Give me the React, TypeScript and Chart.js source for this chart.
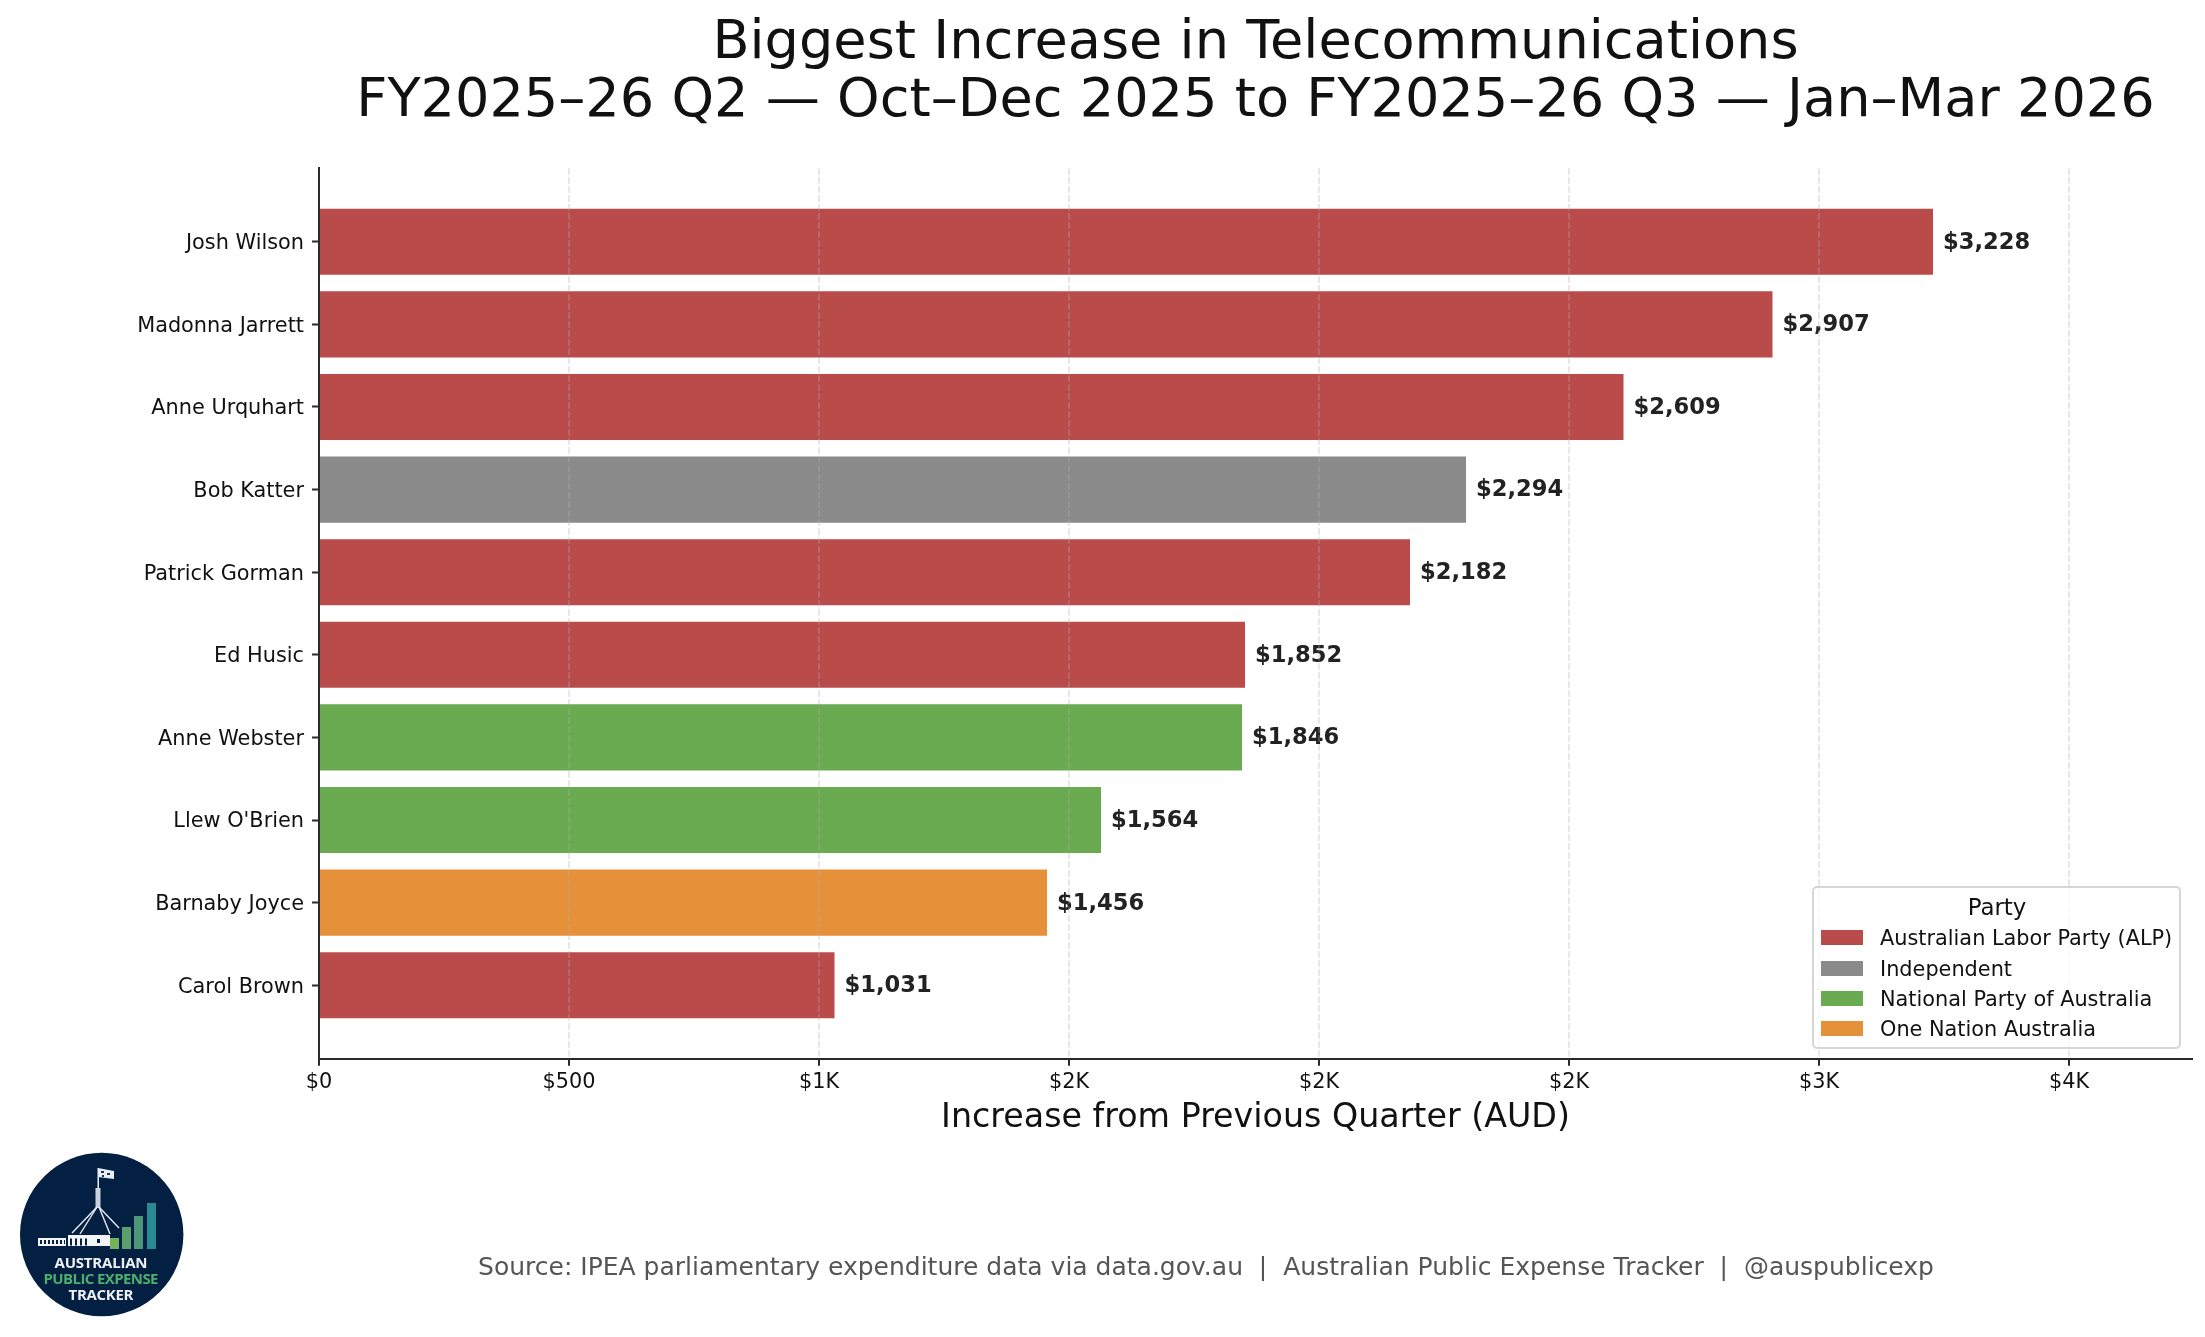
import React, { useEffect, useRef } from 'react';
import Chart from 'chart.js/auto';

const FONT = "'DejaVu Sans', sans-serif";
const AXIS_COLOR = '#2b2b2b';

const members = [
  'Josh Wilson',
  'Madonna Jarrett',
  'Anne Urquhart',
  'Bob Katter',
  'Patrick Gorman',
  'Ed Husic',
  'Anne Webster',
  "Llew O'Brien",
  'Barnaby Joyce',
  'Carol Brown'
];
const increases = [3228, 2907, 2609, 2294, 2182, 1852, 1846, 1564, 1456, 1031];
const memberParties = [0, 0, 0, 1, 0, 0, 2, 2, 3, 0];

const partyNames = [
  'Australian Labor Party (ALP)',
  'Independent',
  'National Party of Australia',
  'One Nation Australia'
];
const partyColors = ['#b94b4b', '#8a8a8a', '#6aaa50', '#e5913a'];

const xTicks = [0, 500, 1000, 1500, 2000, 2500, 3000, 3500];
const xTickLabels = ['$0', '$500', '$1K', '$2K', '$2K', '$2K', '$3K', '$4K'];

const titleLines = [
  'Biggest Increase in Telecommunications',
  'FY2025–26 Q2 — Oct–Dec 2025 to FY2025–26 Q3 — Jan–Mar 2026'
];
const xAxisTitle = 'Increase from Previous Quarter (AUD)';
const sourceNote =
  'Source: IPEA parliamentary expenditure data via data.gov.au  |  Australian Public Expense Tracker  |  @auspublicexp';

// value at the end of each bar
const valueLabels = {
  id: 'valueLabels',
  afterDatasetsDraw(chart: Chart) {
    const { ctx } = chart;
    const bars = chart.getDatasetMeta(0).data;
    ctx.save();
    ctx.font = `bold 22.6px ${FONT}`;
    ctx.fillStyle = '#222222';
    ctx.textAlign = 'left';
    ctx.textBaseline = 'middle';
    bars.forEach((bar, i) => {
      ctx.fillText('$' + increases[i].toLocaleString('en-AU'), bar.x + 10, bar.y + 1);
    });
    ctx.restore();
  }
};

// matplotlib style framed legend sitting in the lower right of the axes
const partyLegend = {
  id: 'partyLegend',
  afterDraw(chart: Chart) {
    const { ctx } = chart;
    const rowTops = [930, 961, 991, 1021];
    ctx.save();
    ctx.beginPath();
    ctx.roundRect(1813, 887, 367, 161, 4);
    ctx.fillStyle = 'rgba(255, 255, 255, 0.8)';
    ctx.fill();
    ctx.strokeStyle = 'rgba(204, 204, 204, 0.8)';
    ctx.lineWidth = 2;
    ctx.stroke();

    ctx.fillStyle = '#111111';
    ctx.font = `22.9px ${FONT}`;
    ctx.textAlign = 'center';
    ctx.textBaseline = 'alphabetic';
    ctx.fillText('Party', 1997, 915);

    ctx.textAlign = 'left';
    ctx.font = `20.83px ${FONT}`;
    partyNames.forEach((name, i) => {
      ctx.fillStyle = partyColors[i];
      ctx.fillRect(1821, rowTops[i], 42, 15);
      ctx.fillStyle = '#111111';
      ctx.fillText(name, 1880, rowTops[i] + 15);
    });
    ctx.restore();
  }
};

function Logo() {
  return (
    <svg
      width={400}
      height={237}
      viewBox="0 0 400 237"
      style={{ position: 'absolute', left: 0, top: 1100 }}
    >
      <circle cx={101.7} cy={134.5} r={81.7} fill="#031f42" />
      <polygon points="98,68 114,71 114,79 98,77" fill="#e8edf2" />
      <g fill="#1c3558">
        <rect x={101} y={71} width={3} height={2} />
        <rect x={107} y={73} width={3} height={2} />
        <rect x={102} y={75} width={2} height={2} />
      </g>
      <rect x={97.5} y={68} width={1.5} height={22} fill="#e8edf2" />
      <rect x={95.5} y={88} width={5} height={20} fill="#c9d2dc" />
      <g stroke="#e8edf2" strokeWidth={1.4}>
        <line x1={97} y1={107} x2={72} y2={133} />
        <line x1={97} y1={107} x2={80} y2={134} />
        <line x1={99} y1={107} x2={110} y2={134} />
        <line x1={99} y1={107} x2={119} y2={128} />
      </g>
      <rect x={38} y={138} width={28} height={8} fill="#f2f4f6" />
      <rect x={68} y={135} width={42} height={11} fill="#f2f4f6" />
      <line x1={40} y1={142} x2={65} y2={142} stroke="#031f42" strokeWidth={4} strokeDasharray="2 2" />
      <line x1={70} y1={142} x2={88} y2={142} stroke="#031f42" strokeWidth={7} strokeDasharray="2 3" />
      <rect x={97} y={139} width={3} height={4} fill="#031f42" />
      <rect x={110} y={138} width={9} height={11} fill="#73b35c" />
      <rect x={122} y={127} width={9} height={22} fill="#5c9f6c" />
      <rect x={134} y={116} width={9} height={33} fill="#4f9579" />
      <rect x={147} y={103} width={9} height={46} fill="#2a8a94" />
      <g fontFamily="'Open Sans', sans-serif" fontWeight={700} textAnchor="middle">
        <text x={101} y={168} fontSize={15} fill="#eef1f4" textLength={93}>
          AUSTRALIAN
        </text>
        <text x={101} y={184} fontSize={15} fill="#4caf6d" textLength={115}>
          PUBLIC EXPENSE
        </text>
        <text x={101} y={200} fontSize={15} fill="#eef1f4" textLength={65}>
          TRACKER
        </text>
      </g>
    </svg>
  );
}

export default function App() {
  const canvasRef = useRef<HTMLCanvasElement | null>(null);

  useEffect(() => {
    if (!canvasRef.current) return;
    const chart = new Chart(canvasRef.current, {
      type: 'bar',
      data: {
        datasets: [
          {
            label: 'Increase',
            data: increases.map((value, i) => ({ x: value, y: i })),
            backgroundColor: memberParties.map((p) => partyColors[p]),
            barPercentage: 0.8,
            categoryPercentage: 1
          }
        ]
      },
      options: {
        indexAxis: 'y',
        animation: false,
        responsive: false,
        devicePixelRatio: 1,
        layout: {
          padding: { top: 14, right: 13, bottom: 200, left: 0 }
        },
        plugins: {
          legend: { display: false },
          tooltip: { enabled: false },
          title: {
            display: true,
            fullSize: false,
            text: titleLines,
            color: '#111111',
            font: { family: FONT, size: 54.15, weight: 'normal', lineHeight: 1.088 },
            padding: { top: 0, bottom: 36.4 }
          }
        },
        scales: {
          x: {
            type: 'linear',
            min: 0,
            max: 3746,
            grid: {
              z: 1,
              color: 'rgba(176, 176, 176, 0.3)',
              lineWidth: 2,
              tickColor: AXIS_COLOR,
              tickWidth: 2,
              tickLength: 7
            },
            border: { z: 2, color: AXIS_COLOR, width: 2, dash: [6.5, 2.5] },
            afterBuildTicks: (scale) => {
              scale.ticks = xTicks.map((value) => ({ value }));
            },
            ticks: {
              autoSkip: false,
              maxRotation: 0,
              color: '#111111',
              padding: 4.3,
              font: { family: FONT, size: 20.83 },
              callback: (_value, index) => xTickLabels[index]
            },
            title: {
              display: true,
              text: xAxisTitle,
              color: '#111111',
              font: { family: FONT, size: 33.3, lineHeight: 1.1 },
              padding: { top: 1, bottom: 0 }
            }
          },
          y: {
            type: 'linear',
            reverse: true,
            offset: false,
            min: -0.89,
            max: 9.89,
            afterFit: (scale) => {
              scale.width = 319;
            },
            afterBuildTicks: (scale) => {
              scale.ticks = members.map((_, value) => ({ value }));
            },
            grid: {
              offset: false,
              drawOnChartArea: false,
              tickColor: AXIS_COLOR,
              tickWidth: 2,
              tickLength: 7
            },
            border: { z: 2, color: AXIS_COLOR, width: 2 },
            ticks: {
              autoSkip: false,
              color: '#111111',
              padding: 8,
              labelOffset: 2,
              font: { family: FONT, size: 20.83 },
              callback: (_value, index) => members[index]
            }
          }
        }
      },
      plugins: [valueLabels, partyLegend]
    });
    return () => chart.destroy();
  }, []);

  return (
    <div style={{ position: 'absolute', left: 0, top: 0, width: 2205, height: 1337, background: '#ffffff' }}>
      <canvas ref={canvasRef} width={2205} height={1337} style={{ display: 'block' }} />
      <Logo />
      <div
        style={{
          position: 'absolute',
          left: 0,
          width: 2412,
          top: 1252,
          textAlign: 'center',
          whiteSpace: 'pre',
          fontFamily: FONT,
          fontSize: 25,
          color: '#555555'
        }}
      >
        {sourceNote}
      </div>
    </div>
  );
}
